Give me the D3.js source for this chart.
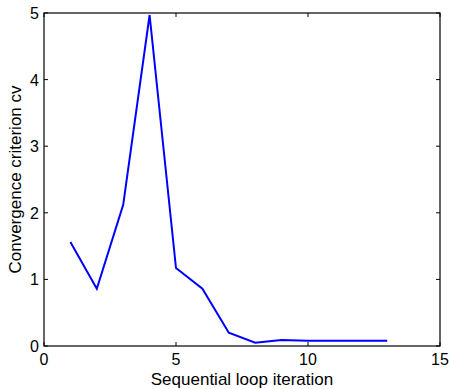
<!DOCTYPE html>
<html><head><meta charset="utf-8">
<script src="https://cdn.jsdelivr.net/npm/d3@7"></script>
<style>body{margin:0;background:#fff}svg{display:block}text{font-family:"Liberation Sans",Arial,sans-serif}</style>
</head><body><svg id="c" width="449" height="389"></svg>
<script>
const iterations = [1,2,3,4,5,6,7,8,9,10,11,12,13];
const cvValues = [1.56,0.86,2.12,4.97,1.17,0.86,0.20,0.05,0.09,0.08,0.08,0.08,0.08];
const xTicks = [0,5,10,15];
const yTicks = [0,1,2,3,4,5];
const xLabel = "Sequential loop iteration";
const yLabel = "Convergence criterion cv";

const svg = d3.select("#c");
const L=44,R=440,T=13,B=346;
const x = d3.scaleLinear().domain([0,15]).range([L,R]);
const y = d3.scaleLinear().domain([0,5]).range([B,T]);
const tl=4, fs=16, lfs=17;
const g = svg.append("g");
g.append("rect").attr("x",L).attr("y",T).attr("width",R-L).attr("height",B-T)
 .attr("fill","none").attr("stroke","#000").attr("stroke-width",1.2);
xTicks.forEach(t=>{
  g.append("line").attr("x1",x(t)).attr("x2",x(t)).attr("y1",B).attr("y2",B-tl).attr("stroke","#000");
  g.append("line").attr("x1",x(t)).attr("x2",x(t)).attr("y1",T).attr("y2",T+tl).attr("stroke","#000");
  g.append("text").attr("x",x(t)).attr("y",B+19).attr("text-anchor","middle").attr("font-size",fs).text(t);
});
yTicks.forEach(t=>{
  g.append("line").attr("x1",L).attr("x2",L+tl).attr("y1",y(t)).attr("y2",y(t)).attr("stroke","#000");
  g.append("line").attr("x1",R).attr("x2",R-tl).attr("y1",y(t)).attr("y2",y(t)).attr("stroke","#000");
  g.append("text").attr("x",L-5).attr("y",y(t)+6).attr("text-anchor","end").attr("font-size",fs).text(t);
});
const line = d3.line().x((d,i)=>x(iterations[i])).y(d=>y(d));
g.append("path").datum(cvValues).attr("d",line).attr("fill","none").attr("stroke","#0000ff").attr("stroke-width",2);
g.append("text").attr("x",(L+R)/2).attr("y",385).attr("text-anchor","middle").attr("font-size",lfs).text(xLabel);
g.append("text").attr("transform",`translate(21,${(T+B)/2}) rotate(-90)`).attr("text-anchor","middle").attr("font-size",lfs).text(yLabel);
</script></body></html>
